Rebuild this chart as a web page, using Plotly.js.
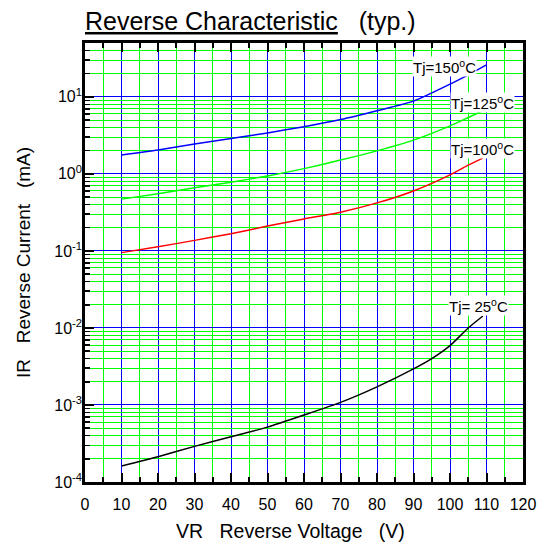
<!DOCTYPE html>
<html>
<head>
<meta charset="utf-8">
<script src="https://cdn.plot.ly/plotly-3.0.1.min.js"></script>
<style>body{margin:0;padding:0;background:#fff}#chart{width:542px;height:543px}</style>
</head>
<body>
<div id="chart"></div>
<script>
// Reverse voltage (V)
const vr150 = [10, 20, 30, 40, 50, 60, 70, 80, 90, 100, 105, 110];
const vr125 = [10, 20, 30, 40, 50, 60, 70, 80, 90, 100, 105, 109];
const vr100 = [10, 20, 30, 40, 50, 60, 70, 80, 90, 100, 105, 109];
const vr25  = [10, 20, 30, 40, 50, 60, 70, 80, 90, 95, 100, 105, 109];
// Reverse current (mA)
const ir150 = [1.76, 2.04, 2.45, 2.88, 3.4, 4.1, 5.07, 6.6, 8.8, 14.6, 19.3, 26];
const ir125 = [0.47, 0.553, 0.66, 0.78, 0.94, 1.17, 1.51, 1.99, 2.74, 4.2, 5.4, 6.6];
const ir100 = [0.095, 0.113, 0.137, 0.167, 0.21, 0.26, 0.318, 0.42, 0.6, 0.97, 1.3, 1.6];
const ir25  = [1.61e-4, 2.13e-4, 2.9e-4, 3.86e-4, 5.16e-4, 7.4e-4, 1.08e-3, 1.72e-3, 2.94e-3, 4.0e-3, 5.9e-3, 0.01, 0.0143];

const curveColors = ['#0000ff', '#00ff00', '#ff0000', '#000000'];
const curveLabels = ['Tj=150<sup>o</sup>C', 'Tj=125<sup>o</sup>C', 'Tj=100<sup>o</sup>C', 'Tj= 25<sup>o</sup>C'];
const labelX = [98.5, 109, 109, 107.7];
const labelY = [25, 8.4, 2.11, 0.0195];

const yTickVals = [1e-4, 1e-3, 1e-2, 1e-1, 1, 10];
const yTickText = ['10<sup>-4</sup>', '10<sup>-3</sup>', '10<sup>-2</sup>', '10<sup>-1</sup>', '10<sup>0</sup>', '10<sup>1</sup>'];
const yMinorMantissas = [2, 3, 4, 5, 6, 7, 8, 9];

const yMinorVals = [];
yTickVals.forEach(d => yMinorMantissas.forEach(m => yMinorVals.push(d * m)));

const xs = [vr150, vr125, vr100, vr25];
const ys = [ir150, ir125, ir100, ir25];

const traces = [{x: [], y: [], type: 'scatter', mode: 'lines', xaxis: 'x', yaxis: 'y', showlegend: false, hoverinfo: 'skip'}].concat(
  xs.map((x, i) => ({
    x: x, y: ys[i], type: 'scatter', mode: 'lines', xaxis: 'x', yaxis: 'y2',
    line: {color: curveColors[i], width: 1.5, shape: 'spline', smoothing: 0.6},
    hoverinfo: 'skip', showlegend: false
  }))
);

const NB = '\u00A0';
const ZW = '\u200B';
const font = 'Liberation Sans, Arial, sans-serif';
const yRange = [-4, Math.log10(50)];

const annotations = curveLabels.map((t, i) => ({
  x: labelX[i], y: Math.log10(labelY[i]), xref: 'x', yref: 'y2',
  text: t, showarrow: false, bgcolor: '#ffffff', borderpad: 0,
  font: {family: font, size: 15, color: '#000'}
}));

const layout = {
  width: 542, height: 543,
  margin: {l: 85, r: 19, t: 43, b: 61},
  paper_bgcolor: '#ffffff', plot_bgcolor: '#ffffff',
  font: {family: font, color: '#000'},
  title: {
    text: '<u>Reverse Characteristic</u>' + NB + NB + NB + '(typ.)',
    x: 0, xanchor: 'left', xref: 'paper', y: 0.977, yanchor: 'top',
    font: {family: font, size: 25, color: '#000'}
  },
  xaxis: {
    range: [0, 120], dtick: 10, tick0: 0,
    showgrid: true, gridcolor: '#0000ff', gridwidth: 1,
    ticks: 'inside', ticklen: 9, tickwidth: 2, tickcolor: '#000',
    showline: true, linecolor: '#000', linewidth: 3, mirror: 'ticks',
    zeroline: false,
    tickfont: {family: font, size: 16, color: '#000'},
    ticklabelstandoff: 6,
    minor: {dtick: 5, showgrid: true, gridcolor: '#00ff00', gridwidth: 1, ticks: 'inside', ticklen: 5, tickcolor: '#000', tickwidth: 2},
    title: {text: 'VR' + NB + NB + NB + 'Reverse Voltage' + NB + NB + NB + '(V)' + NB.repeat(5) + ZW, font: {family: font, size: 19.5, color: '#000'}, standoff: 13}
  },
  yaxis: {
    type: 'log', range: yRange,
    tickmode: 'array', tickvals: yMinorVals, showticklabels: false,
    showgrid: true, gridcolor: '#00ff00', gridwidth: 1,
    ticks: 'inside', ticklen: 5, tickwidth: 1.5, tickcolor: '#000',
    showline: true, linecolor: '#000', linewidth: 3, mirror: true,
    zeroline: false
  },
  yaxis2: {
    type: 'log', range: yRange, overlaying: 'y', side: 'left',
    tickmode: 'array', tickvals: yTickVals, ticktext: yTickText,
    showgrid: true, gridcolor: '#0000ff', gridwidth: 1,
    ticks: 'inside', ticklen: 9, tickwidth: 2, tickcolor: '#000',
    showline: false, zeroline: false,
    tickfont: {family: font, size: 16, color: '#000'},
    ticklabelstandoff: 2,
    title: {text: 'IR' + NB + NB + NB + 'Reverse Current' + NB + NB + NB + '(mA)', font: {family: font, size: 19, color: '#000'}, standoff: 18}
  },
  annotations: annotations
};

Plotly.newPlot('chart', traces, layout, {displayModeBar: false, staticPlot: true});
</script>
</body>
</html>
